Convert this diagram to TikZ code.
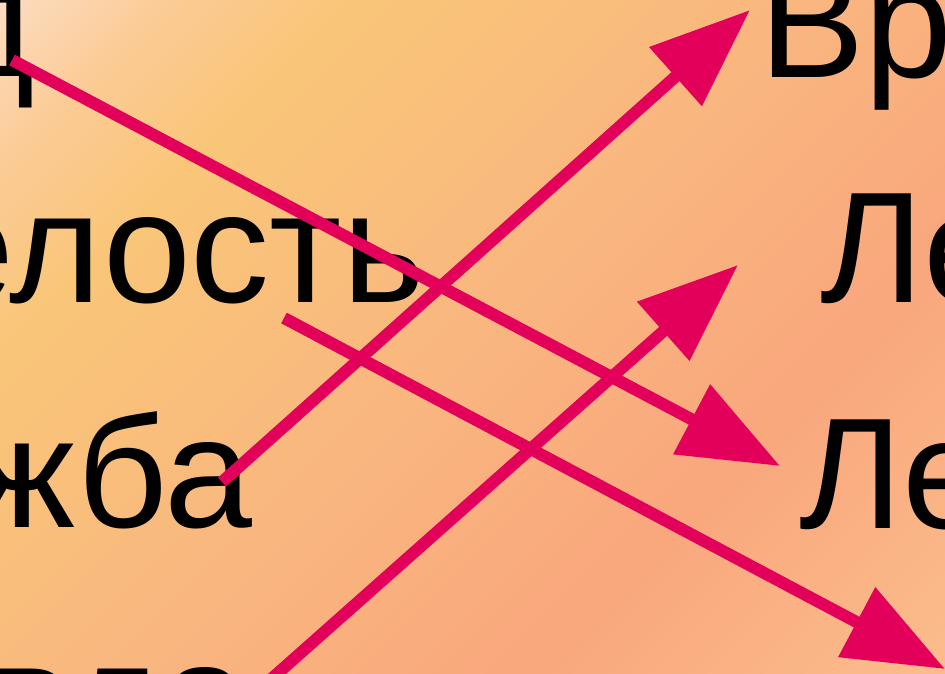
\documentclass[tikz,border=0pt]{standalone}
\usepackage{fontspec}
\setmainfont{Liberation Sans}
\usetikzlibrary{arrows.meta}
\definecolor{arc}{HTML}{E3005B}
\definecolor{bgA}{HTML}{FDDCC0}
\definecolor{bgB}{HTML}{FBCB95}
\definecolor{bgC}{HTML}{F9C678}
\definecolor{bgD}{HTML}{F9B77F}
\definecolor{bgE}{HTML}{F9A77D}
\definecolor{bgF}{HTML}{FBBB8B}
\pgfdeclarehorizontalshading{sunset}{100bp}{color(0bp)=(bgA); color(14.6bp)=(bgA); color(22bp)=(bgB); color(30bp)=(bgC); color(49bp)=(bgD); color(67bp)=(bgE); color(84bp)=(bgF); color(100bp)=(bgF)}
\tikzset{
  ar/.style={-{Triangle[length=100pt,width=76pt]},line width=12pt,arc},
  wd/.style={font=\fontsize{158}{158}\selectfont,inner sep=0pt}
}

\begin{document}
\begin{tikzpicture}[x=1pt,y=1pt]
\clip (0,0) rectangle (945,673);
\shade[shading=sunset,shading angle=-45] (0,0) rectangle (945,673);
\node[wd,anchor=base east] (l1) at (35,596) {д};
\node[wd,anchor=base east] (l2) at (425,370) {елость};
\node[wd,anchor=base east] (l3) at (252,146) {жба};
\node[wd,anchor=base east] (l4) at (250,-79) {вда};
\node[wd,anchor=base west] (r1) at (759,595) {Вр};
\node[wd,anchor=base west] (r2) at (820,370) {Ле};
\node[wd,anchor=base west] (r3) at (799,145) {Ле};
\coordinate (s1) at (12,613);  \coordinate (t1) at (780,207);
\coordinate (s2) at (222,191); \coordinate (t2) at (750,663);
\coordinate (s3) at (284,355); \coordinate (t3) at (945,4);
\coordinate (s4) at (269,-8);  \coordinate (t4) at (738,408);
\draw[ar] (s1) -- (t1);
\draw[ar] (s2) -- (t2);
\draw[ar] (s3) -- (t3);
\draw[ar] (s4) -- (t4);
\end{tikzpicture}
\end{document}
